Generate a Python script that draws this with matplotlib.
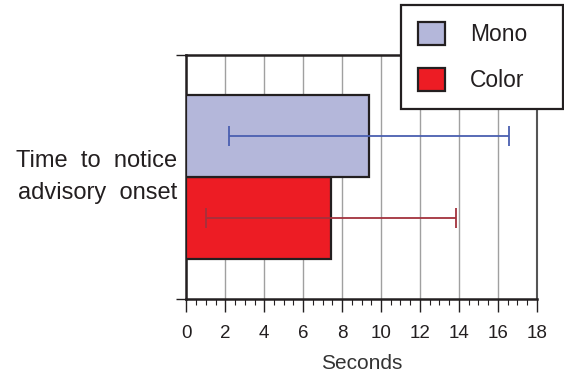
import matplotlib.pyplot as plt
from matplotlib.patches import Patch
from matplotlib.ticker import MultipleLocator

plt.rcParams["font.family"] = ["Liberation Sans", "DejaVu Sans"]
plt.rcParams["text.color"] = "#231f20"

# data
conditions = ["Color", "Mono"]
mean_seconds = [7.42, 9.38]
err_seconds = [6.42, 7.2]
bar_colors = ["#ed1c24", "#b4b7da"]
err_colors = ["#a3323d", "#4a5fb0"]
category_label = "Time  to  notice\nadvisory  onset"

fig = plt.figure(figsize=(5.64, 3.79), dpi=100)
ax = fig.add_axes([0.3305, 0.2103, 0.6211, 0.6454])

ypos = [1, 2]
for y, m, e, fc, ec in zip(ypos, mean_seconds, err_seconds, bar_colors, err_colors):
    ax.barh(y, m, height=1.0, color=fc, edgecolor="#231f20", linewidth=1.6, zorder=3)
    ax.errorbar(m, y, xerr=e, fmt="none", ecolor=ec, elinewidth=1.3,
                capsize=7, capthick=1.3, zorder=4)

ax.set_xlim(0, 18)
ax.set_ylim(0, 3)
ax.xaxis.set_major_locator(MultipleLocator(2))
ax.xaxis.set_minor_locator(MultipleLocator(0.5))
ax.set_yticks([0, 3])
ax.set_yticklabels([])
ax.tick_params(axis="x", which="major", length=9.5, width=1.0, labelsize=13.5, pad=9,
               color="#231f20", labelcolor="#231f20")
ax.tick_params(axis="x", which="minor", length=4.3, width=0.8, color="#231f20")
ax.tick_params(axis="y", length=7, width=1.0, color="#231f20")
ax.grid(axis="x", color="#a0a0a0", linewidth=1.0, zorder=0)
ax.set_axisbelow(True)

for side in ["left", "bottom", "top"]:
    ax.spines[side].set_linewidth(1.8)
    ax.spines[side].set_color("#231f20")
ax.spines["right"].set_linewidth(1.5)
ax.spines["right"].set_color("#555555")

ax.set_xlabel("Seconds", fontsize=15, labelpad=8.5, color="#333333")
ax.text(-0.027, 0.5, category_label, transform=ax.transAxes, ha="right", va="center",
        fontsize=17, linespacing=1.55, multialignment="right")

handles = [Patch(facecolor=bar_colors[1], edgecolor="#231f20", linewidth=1.6, label="Mono"),
           Patch(facecolor=bar_colors[0], edgecolor="#231f20", linewidth=1.6, label="Color")]
leg = fig.legend(handles=handles, loc="upper left", bbox_to_anchor=(0.711, 0.717, 0.287, 0.27),
                 mode="expand", fontsize=16.5, frameon=True, fancybox=False, edgecolor="#231f20",
                 framealpha=1, handlelength=1.15, handleheight=1.15, labelspacing=0.95,
                 handletextpad=1.1, borderpad=0.75, borderaxespad=0)
leg.get_frame().set_linewidth(1.6)
leg.set_zorder(10)

fig.savefig("out.png", dpi=100)
